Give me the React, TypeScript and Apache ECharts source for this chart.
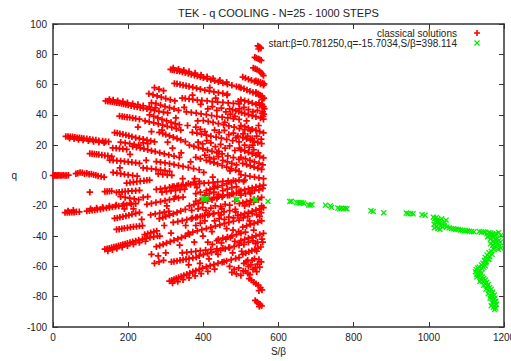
import React, { useEffect, useRef } from "react";
import * as echarts from "echarts";

// ---- tick labels / axis ranges ----
const xTicks = [0, 200, 400, 600, 800, 1000, 1200];
const yTicks = [-100, -80, -60, -40, -20, 0, 20, 40, 60, 80, 100];
const titleText = "TEK - q COOLING - N=25 - 1000 STEPS";
const redName = "classical solutions";
const greenName = "start:β=0.781250,q=-15.7034,S/β=398.114";

// ---- red: classical solutions [S/β, q] ----
const rayZero = [[0,0],[3,0],[6,0.1],[9,0],[12,0],[15,0.1],[19,0],[23,0],[27,0.1],[32,0],[36,0],[41,0.2],[61,1.2],[66,1.5],[72,2],[78,1.8],[84,1.2],[90,1.5],[96,0.8],[102,1],[108,0.5],[114,0.2],[120,-0.3],[128,-0.6],[136,-1]];
const rayP25 = [[34,25.8],[40,25.8],[46,25.6],[52,25.5],[58,25.3],[64,25],[70,25],[76,24.7],[82,24.5],[90,24.2],[98,24],[106,23.6],[114,23.4],[122,23],[132,22.8],[140,22.5],[148,22.3]];
const rayP25b = [[44,24.6],[56,24.2],[68,23.8],[80,23.4],[94,23],[108,22.5],[122,22],[136,21.6]];
const rayP14 = [[98,14.5],[104,14.4],[110,14.2],[116,14],[122,13.8],[130,13.5],[138,13.2],[146,13],[156,12.6]];
const rayP48 = [[140,49.2],[146,49],[152,48.8],[158,48.6],[164,48.3],[170,48],[176,47.8],[182,47.5],[188,47.2],[194,46.8],[200,46.5],[208,46],[216,45.6],[224,45.2],[232,44.8],[240,44.5],[250,44],[260,43.5],[270,43],[282,42.4],[294,41.8],[305,41.3]];
const rayP48b = [[150,50.2],[160,49.8],[172,49.4],[186,48.8],[198,48],[212,47.4],[226,46.8],[240,46],[256,45.3],[272,44.6]];
const rayP38 = [[177,39.2],[184,39],[190,38.8],[197,38.5],[204,38.3],[212,38],[220,37.6],[230,37.2]];
const rayP70 = [[313,70],[318,69.8],[323,69.5],[330,69.2],[337,68.8],[344,68.3],[352,67.8],[360,67.3],[368,66.7],[376,66.2],[384,65.6],[392,65],[400,64.5],[410,63.8],[420,63.2],[430,62.5],[440,61.8],[452,61],[464,60.2],[476,59.5],[488,58.8],[495,58.4]];
const rayP70b = [[320,71],[334,70.2],[348,69.4],[362,68.6],[378,67.6],[394,66.4],[410,65.2],[426,64],[444,62.8],[462,61.6]];
const rayP60 = [[323,60.8],[330,60.5],[338,60],[346,59.6],[354,59.2],[362,58.8],[372,58.2],[382,57.6],[392,57],[404,56.3],[416,55.7],[428,55.2],[440,54.7],[452,54.2],[464,53.8]];
const rayP51 = [[344,51],[352,50.8],[362,50.5],[372,50.2],[384,49.8],[396,49.5],[410,49.2],[424,48.8],[438,48.5],[452,48.2],[466,47.9],[480,47.6],[495,47.3]];
const rayP42 = [[355,42],[368,41.6],[381,41.2],[394,40.7],[408,40.2],[422,39.6],[436,39],[450,38.5],[465,38],[480,37.5],[495,37]];
const rayP54 = [[255,54],[266,53.3],[277,52.5],[288,51.7],[300,50.8],[312,50],[324,49.2],[270,58],[282,57],[294,56]];
const rayP40 = [[257,40],[268,39],[279,38],[290,37],[302,36],[314,35],[325,34.2],[336,33.5]];
const rayP46 = [[262,48],[274,47.5],[286,46.5],[298,45.5],[310,44.8],[322,44],[334,43]];
const rayP28a = [[164,28.3],[171,28],[178,27.6],[186,27.2],[194,26.7],[202,26.2],[210,25.6],[220,25],[230,24.4],[240,24],[250,23.4],[260,22.8],[270,22.2]];
const rayP28b = [[283,28.5],[292,27.8],[300,27],[310,26.2],[320,25.3],[330,24.4],[340,23.5],[352,22.4]];
const rayP28c = [[371,28.5],[383,28],[395,27.3],[408,26.6],[420,26],[434,25.3],[448,24.6],[462,23.8],[478,23],[495,22.2]];
const rayP36a = [[245,36],[256,35.4],[268,34.8],[280,34],[292,33.3],[304,32.5],[316,31.7],[328,30.9],[340,30]];
const rayP36b = [[400,36.3],[413,35.7],[426,35],[440,34.3],[454,33.5],[468,32.7],[482,31.9],[496,31],[510,30.2],[525,29.4]];
const rayP18 = [[159,18.2],[168,18],[177,17.8],[186,17.5],[196,17.2],[180,22],[192,21.5],[204,21],[216,20.5],[228,20],[240,21.5],[252,21]];
const rayP19 = [[212,19.2],[222,18.7],[232,18.2],[242,17.6],[252,17],[262,16.4],[272,15.8],[284,15],[296,14.3],[308,13.6],[322,12.8],[336,12]];
const rayP20 = [[363,20],[375,19.2],[387,18.4],[399,17.6],[411,16.8],[423,16],[436,15.1],[450,14.2],[465,13],[480,11.8],[495,10.6]];
const rayP10 = [[151,10.2],[160,10],[170,9.8],[180,9.6],[190,9.3],[200,9],[210,8.7],[220,8.4],[230,8]];
const rayP9 = [[275,9.2],[286,8.8],[298,8.3],[310,7.8],[322,7.2],[334,6.6],[346,6],[360,5.3],[374,4.6],[389,3.8]];
const rayP10b = [[408,10],[418,9.2],[428,8.4],[438,7.6],[450,6.6],[462,5.6],[474,4.6],[486,3.6],[495,2.8]];
const rayP5 = [[160,2],[170,1.6],[180,1.2],[190,0.8],[200,0.4],[212,0],[224,-0.4],[240,5],[250,4.7],[262,4.4],[274,4],[286,3.6],[298,3.2],[310,2.8],[280,1],[292,0.7],[304,0.4],[316,0.1]];
const midCloudP = [[380,32],[392,30.5],[404,29],[386,22],[398,20.8],[420,21.5],[432,19],[446,20.5],[458,18],[470,19.5],[484,16.5],[496,18],[510,20],[522,18.5],[534,17],[546,15],[430,30],[442,28.5],[456,29.8],[468,27],[480,28],[492,26],[506,27.5],[518,26],[530,24.5],[542,26],[554,24],[412,44],[424,45.5],[436,43],[448,44.5],[460,42],[472,40.5],[484,39],[496,44],[508,45],[520,43.5],[532,42],[544,43],[556,41],[380,12],[392,11],[404,13.5],[416,12],[428,11],[440,12.5],[452,10],[464,9],[476,8],[488,7],[500,12],[512,11],[524,10],[536,9],[548,8],[558,7]];
const scatterMid = [[305,22],[318,18],[327,38],[341,15],[349,45],[358,33],[366,9],[371,53],[377,-2],[385,36],[393,47],[401,2],[409,23],[417,58],[425,-1],[433,51],[441,16],[449,-22],[457,35],[463,53],[471,3],[479,-36],[487,25],[493,49],[507,-4],[515,36],[523,-30],[531,20],[539,-45],[547,33],[555,-20],[303,-20],[314,-38],[326,-14],[337,-46],[345,-2],[353,-33],[361,-59],[369,-23],[376,-44],[383,-8],[391,-58],[399,-40],[407,-23],[415,-55],[423,-37],[431,-7],[439,-52],[447,-26],[455,-57],[462,-35],[470,-13],[478,-51],[486,-24],[494,-37],[502,-50],[510,-3],[518,-56],[526,-12],[534,-36],[542,-50],[550,-27],[558,-44],[290,30],[296,-33],[284,-40],[262,29],[248,10],[236,-29],[226,32],[214,-22],[205,14],[190,-22],[178,5]];
const colTopP = [[545,85.5],[548,85],[551,84.5],[553,84],[547,83.5],[537,78],[541,77.5],[546,77],[550,76.5],[554,76],[533,71],[538,70.5],[543,70],[549,69],[553,68],[557,67],[560,66]];
const colMidP = [[540,62.5],[546,62],[552,61.5],[558,61],[562,60.5],[540,55],[546,54],[551,53],[556,52],[561,51],[557,50],[548,48],[556,47],[560,45.5],[562,44],[558,42],[561,40.5],[559,39]];
const rightP1 = [[470,44],[478,43.4],[486,42.8],[494,42.2],[502,41.5],[510,41],[520,40.2],[530,39.5],[540,38.8],[552,38],[560,37.2]];
const rightP2 = [[500,58],[508,57.2],[516,56.5],[524,55.6],[532,54.8],[540,54],[548,53.2],[556,52.4],[505,65],[512,64.3],[520,63.6],[528,62.8],[536,62],[544,61.2],[552,60.4],[560,59.6]];
const rightP3 = [[500,50],[510,49.3],[520,48.6],[530,47.8],[540,47],[550,46.2],[558,45.4],[500,33],[510,32.2],[520,31.4],[530,30.6],[540,29.8],[550,29],[560,28.2]];
const rightP4 = [[505,25],[515,24.2],[525,23.4],[535,22.6],[545,21.8],[555,21],[500,17],[510,16.2],[520,15.3],[530,14.4],[540,13.5],[550,12.6],[560,11.7]];
const rightP5 = [[505,8],[515,7.2],[525,6.4],[535,5.6],[545,4.8],[555,4],[500,0.5],[512,0],[524,-0.5],[536,-1],[548,-1.5],[560,-2]];

const rayN24 = [[32,-24.5],[38,-24.5],[44,-24.4],[50,-24.3],[56,-24.2],[62,-24],[70,-24],[90,-23.5],[97,-23.2],[104,-23],[111,-22.8],[118,-22.5],[126,-22.2],[134,-21.8],[142,-21.5],[150,-21.2],[158,-20.8],[166,-20.5],[175,-20.2],[185,-19.8],[196,-19.4],[208,-19],[220,-18.6]];
const rayN24b = [[40,-23.4],[54,-23],[100,-22],[116,-21.5],[132,-21],[150,-20.2],[168,-19.5],[188,-18.8],[206,-18.2]];
const rayN11 = [[98,-11],[138,-10.6],[144,-10.5],[150,-10.4],[156,-10.3],[169,-11.2],[176,-11],[184,-10.8],[192,-10.6],[200,-10.4],[210,-10.2],[220,-10],[230,-9.8],[180,-14],[192,-14.5],[204,-15],[216,-15.5],[228,-16],[240,-14.5],[252,-14]];
const rayN48 = [[138,-48.6],[144,-48.3],[150,-48],[156,-47.6],[162,-47.2],[168,-46.8],[174,-46.4],[180,-46],[186,-45.6],[192,-45.2],[198,-44.8],[205,-44.3],[212,-43.8],[220,-43.2],[228,-42.6],[238,-42],[248,-41.5],[258,-41],[268,-40.5],[278,-40]];
const rayN48b = [[146,-49.8],[158,-49],[170,-48.2],[184,-47.3],[198,-46.4],[214,-45.4],[230,-44.3],[246,-43.4]];
const rayN35 = [[169,-35.6],[176,-35.4],[183,-35.1],[190,-34.8],[198,-34.5],[206,-34.2],[214,-33.9],[222,-33.6],[230,-33.4],[238,-33.1],[244,-39],[252,-38.4],[260,-37.8],[268,-37.2],[276,-36.6]];
const rayN70 = [[310,-69.7],[316,-69.2],[322,-68.6],[328,-68],[334,-67.4],[341,-66.7],[348,-66],[356,-65.2],[364,-64.4],[372,-63.6],[380,-62.8],[389,-62],[398,-61.2],[408,-60.3],[418,-59.5],[428,-58.8],[439,-58],[450,-57.2],[462,-56.4],[474,-55.6],[486,-54.8],[495,-54.2]];
const rayN70b = [[318,-71],[332,-70],[346,-68.8],[362,-67.5],[378,-66.2],[394,-64.8],[412,-63.3],[430,-61.8]];
const rayN57 = [[315,-57],[322,-56.7],[330,-56.4],[338,-56],[346,-55.6],[354,-55.2],[362,-54.8],[372,-54.4],[381,-54],[270,-58],[282,-57],[294,-56],[262,-52],[280,-53],[300,-51]];
const rayN47 = [[275,-47],[284,-46.2],[293,-45.4],[302,-44.6],[312,-43.7],[322,-42.8],[332,-41.9],[342,-41],[352,-40],[363,-39]];
const rayN53 = [[389,-53],[400,-52.3],[411,-51.5],[422,-50.8],[434,-50],[446,-49.2],[458,-48.4],[470,-47.6],[482,-46.8],[495,-46]];
const rayN51 = [[344,-51],[356,-50.7],[368,-50.4],[380,-50],[392,-49.6],[406,-49.2],[420,-48.8],[436,-48.4],[452,-48],[468,-47.6]];
const rayN31 = [[320,-31],[332,-30.4],[344,-29.8],[356,-29.2],[368,-28.5],[380,-27.8],[392,-27],[404,-26.3],[416,-25.6],[428,-25]];
const rayN38 = [[360,-38],[372,-37.3],[384,-36.6],[396,-35.8],[408,-35],[420,-34.2],[432,-33.4],[444,-32.6],[456,-31.8],[468,-31],[480,-30.2],[495,-29.4]];
const rayN42 = [[440,-42],[452,-41.3],[464,-40.6],[476,-39.8],[488,-39],[500,-38.2],[512,-37.4]];
const rayN28a = [[164,-28.3],[171,-28],[178,-27.6],[186,-27.2],[194,-26.7],[202,-26.2],[210,-25.6],[220,-25],[230,-24.4],[260,-26],[272,-25.4],[284,-24.8],[296,-24.2],[308,-23.6]];
const rayN28b = [[283,-28.5],[292,-27.8],[300,-27],[310,-26.2],[320,-25.3],[330,-24.4],[340,-23.5],[352,-22.4],[371,-28],[384,-27.4],[398,-26.8],[412,-26.1],[426,-25.4],[440,-24.7],[455,-24],[470,-23.2],[485,-22.4]];
const rayN19 = [[250,-19],[262,-18.4],[274,-17.8],[286,-17.2],[298,-16.6],[310,-16],[322,-15.4],[334,-14.8],[346,-14.2],[380,-17],[392,-16.4],[404,-15.8],[416,-15.2],[428,-14.6],[440,-14],[452,-13.4],[464,-12.8],[476,-12.2],[488,-11.6]];
const rayN20 = [[363,-20],[375,-19.2],[387,-18.4],[399,-17.6],[411,-16.8],[423,-16],[436,-15.1],[450,-14.2],[465,-13],[480,-11.8],[495,-10.6]];
const rayN9 = [[275,-9.2],[286,-8.8],[298,-8.3],[310,-7.8],[322,-7.2],[334,-6.6],[346,-6],[360,-5.3],[374,-4.6],[389,-3.8],[290,-11],[302,-10.6],[314,-10.2],[326,-9.8],[338,-9.4],[350,-9]];
const rayN5 = [[196,-5],[205,-4.7],[214,-4.4],[223,-4.1],[232,-3.8],[242,-3.5],[250,-3.2],[257,-3],[318,-7.2],[330,-6.9],[342,-6.6],[354,-6.3],[366,-6],[378,-5.7],[390,-5.4],[402,-5.1],[414,-4.8],[426,-4.5],[438,-4.2],[452,-3.9],[466,-3.6],[480,-3.3],[495,-3],[408,-10],[418,-9.2],[428,-8.4],[438,-7.6],[450,-6.6],[462,-5.6],[474,-4.6],[486,-3.8]];
const midCloudN = [[380,-33],[392,-31.5],[404,-30],[386,-22],[398,-21],[420,-21.5],[432,-20],[446,-20.5],[458,-19],[470,-19.5],[484,-17],[496,-18.5],[510,-20],[522,-19],[534,-17.5],[546,-16],[430,-30],[442,-28.5],[456,-29],[468,-27.5],[480,-28],[492,-26.5],[506,-28],[518,-27],[530,-25],[542,-26],[554,-24.5],[412,-44],[424,-45.5],[436,-43],[448,-44.5],[460,-42],[472,-41],[484,-43.5],[496,-44.5],[508,-45.5],[520,-44],[532,-43],[544,-44],[556,-42],[380,-12],[392,-11],[404,-13],[416,-12],[428,-11],[440,-12.5],[452,-10],[464,-9],[476,-8],[488,-7.5],[500,-13],[512,-12],[524,-11],[536,-10],[548,-9.5],[558,-8.5],[470,-60],[482,-62],[494,-61],[506,-63],[500,-66],[488,-65],[476,-64]];
const rightN1 = [[500,-10],[510,-9.4],[520,-8.8],[530,-8.2],[540,-7.6],[550,-7],[560,-6.4],[505,-18],[515,-17.3],[525,-16.6],[535,-15.9],[545,-15.2],[555,-14.5]];
const rightN2 = [[500,-26],[510,-25.2],[520,-24.4],[530,-23.6],[540,-22.8],[550,-22],[560,-21.2],[505,-34],[515,-33.2],[525,-32.4],[535,-31.6],[545,-30.8],[555,-30]];
const rightN3 = [[500,-43],[510,-42.2],[520,-41.4],[530,-40.6],[540,-39.8],[550,-39],[560,-38.2],[505,-52],[513,-51.2],[521,-50.4],[529,-49.6],[537,-48.8],[545,-48],[553,-47.2]];
const blobN60 = [[508,-58],[514,-57],[520,-60],[526,-59],[532,-62],[538,-61],[544,-58.5],[550,-60.5],[512,-63],[518,-64.5],[524,-65.5],[530,-56],[536,-55],[542,-63.5],[548,-55.5],[554,-57]];
const colBotN = [[522,-68],[528,-69],[534,-70.5],[540,-71.5],[546,-72.5],[552,-74],[556,-75.5],[548,-76],[538,-82.5],[543,-83.5],[547,-84.5],[551,-85],[555,-86],[549,-86.5]];

// ---- green: cooling trajectory from start point ----
const greenDrift = [[398.1,-15.7],[402,-15.4],[406,-15.6],[411,-15.3],[487,-15.8],[491,-15.6],[536,-16.2],[540,-16],[572,-17],[630,-17.2],[634,-17],[648,-17.8],[654,-18],[658,-18.2],[662,-18],[667,-18.3],[680,-19.4],[684,-19.6],[689,-19.3],[725,-19.6],[738,-20],[741,-21],[758,-21.5],[763,-21.9],[768,-21.6],[773,-21.8],[778,-21.7],[782,-22],[846,-23.3],[852,-23.8],[880,-24.6],[940,-24.8],[945,-25.2],[952,-25],[958,-25.3],[982,-25.9],[990,-26.2]];
const greenCluster = [[1012,-27.5],[1016,-28.5],[1020,-27.8],[1024,-29],[1018,-30],[1022,-31],[1026,-30.5],[1030,-29.5],[1034,-28.6],[1028,-32],[1032,-33],[1020,-33.5],[1015,-34.5],[1024,-35],[1036,-34],[1042,-31],[1046,-29.5],[1040,-33],[1014,-32.2],[1030,-35.5],[1048,-34],[1054,-34.6],[1060,-35],[1066,-35.2],[1072,-35.5],[1078,-35.6],[1084,-36],[1090,-36.2],[1096,-36.4],[1102,-36.5],[1108,-36.8],[1114,-37],[1120,-37.2],[1134,-37],[1140,-37.4],[1146,-37.2]];
const greenColumn = [[1150,-37.5],[1155,-38.5],[1160,-37.8],[1165,-38],[1170,-38.6],[1176,-39],[1180,-38.5],[1186,-37.6],[1192,-39.5],[1160,-40],[1168,-40.5],[1174,-41],[1182,-41.5],[1178,-42.5],[1186,-43],[1190,-44],[1184,-45],[1176,-44.5],[1170,-46],[1180,-47],[1188,-46.5],[1192,-48],[1185,-48.8],[1172,-48.5],[1166,-50],[1160,-51],[1155,-52.5],[1162,-53.5],[1150,-54],[1158,-55],[1148,-56],[1154,-57],[1144,-58],[1140,-59],[1150,-59.5],[1146,-60.5],[1130,-61],[1126,-62],[1135,-62.5],[1124,-63.5],[1132,-64],[1140,-64.5],[1128,-65.5],[1136,-66],[1142,-67],[1146,-68],[1138,-68.5],[1150,-69],[1144,-70],[1154,-70.5],[1150,-71.5],[1158,-72],[1156,-73],[1162,-74],[1166,-75],[1160,-76],[1170,-77],[1168,-78],[1174,-79],[1165,-79.5],[1170,-80.5],[1176,-81],[1172,-82],[1178,-83],[1174,-84],[1180,-85],[1176,-86],[1172,-87],[1178,-87.5],[1175,-88.5]];
const greenColumnB = [[1156,-40.5],[1164,-42],[1170,-43.5],[1164,-45],[1174,-47.5],[1168,-52],[1160,-55.5],[1152,-58],[1142,-61.5],[1134,-60.5],[1128,-67],[1136,-70],[1146,-72.5],[1152,-75],[1158,-78],[1163,-81],[1168,-84],[1166,-86]];

const redSets = [rayZero, rayP25, rayP25b, rayP14, rayP48, rayP48b, rayP38, rayP70, rayP70b, rayP60, rayP51, rayP42, rayP54, rayP40, rayP46, rayP28a, rayP28b, rayP28c, rayP36a, rayP36b, rayP18, rayP19, rayP20, rayP10, rayP9, rayP10b, rayP5, midCloudP, scatterMid, colTopP, colMidP, rightP1, rightP2, rightP3, rightP4, rightP5, rayN24, rayN24b, rayN11, rayN48, rayN48b, rayN35, rayN70, rayN70b, rayN57, rayN47, rayN53, rayN51, rayN31, rayN38, rayN42, rayN28a, rayN28b, rayN19, rayN20, rayN9, rayN5, midCloudN, rightN1, rightN2, rightN3, blobN60, colBotN];
const greenSets = [greenDrift, greenCluster, greenColumn, greenColumnB];

const PLUS = "path://M2.2,0H3.8V2.2H6V3.8H3.8V6H2.2V3.8H0V2.2H2.2Z";
const CROSS = "path://M0,1.5L1.5,0L5,3.5L8.5,0L10,1.5L6.5,5L10,8.5L8.5,10L5,6.5L1.5,10L0,8.5L3.5,5Z";
const FONT = "Liberation Sans, Arial, sans-serif";
const plainNum = (v: number) => String(v);

export default function App() {
  const ref = useRef<HTMLDivElement>(null);
  useEffect(() => {
    if (!ref.current) return;
    const chart = echarts.init(ref.current, null, { renderer: "svg" });
    const redData = ([] as number[][]).concat(...redSets);
    const greenData = ([] as number[][]).concat(...greenSets);
    const axisCommon = {
      type: "value" as const,
      axisLine: { show: true, onZero: false, lineStyle: { color: "#333", width: 1.5 } },
      axisTick: { show: true, inside: true, length: 5, lineStyle: { color: "#333", width: 1 } },
      splitLine: { show: false },
    };
    chart.setOption({
      animation: false,
      title: {
        text: titleText,
        left: 173,
        top: 2,
        textStyle: { fontSize: 11, fontWeight: "normal", color: "#222", fontFamily: FONT },
      },
      legend: {
        orient: "vertical",
        right: 26,
        top: 23,
        align: "right",
        itemWidth: 6,
        itemHeight: 6,
        itemGap: 0,
        selectedMode: false,
        textStyle: { fontSize: 10, color: "#222", fontFamily: FONT, lineHeight: 10, padding: [0, 12, 0, 0] },
        data: [
          { name: redName, icon: PLUS },
          { name: greenName, icon: CROSS },
        ],
      },
      grid: { left: 53, right: 7, top: 24, bottom: 34, show: false, containLabel: false, outerBoundsMode: "none" },
      xAxis: [
        {
          ...axisCommon,
          min: xTicks[0],
          max: xTicks[xTicks.length - 1],
          interval: 200,
          position: "bottom",
          name: "S/β",
          nameLocation: "middle",
          nameGap: 19,
          nameTextStyle: { fontSize: 10, color: "#222", fontFamily: FONT },
          axisLabel: { fontSize: 10, color: "#222", margin: 5, fontFamily: FONT, formatter: plainNum, hideOverlap: false },
        },
        {
          ...axisCommon,
          min: xTicks[0],
          max: xTicks[xTicks.length - 1],
          interval: 200,
          position: "top",
          axisLabel: { show: false },
        },
      ],
      yAxis: [
        {
          ...axisCommon,
          min: yTicks[0],
          max: yTicks[yTicks.length - 1],
          interval: 20,
          position: "left",
          name: "q",
          nameLocation: "middle",
          nameRotate: 0,
          nameGap: 36,
          nameTextStyle: { fontSize: 10, color: "#222", fontFamily: FONT },
          axisLabel: { fontSize: 10, color: "#222", margin: 6, fontFamily: FONT, formatter: plainNum },
        },
        {
          ...axisCommon,
          min: yTicks[0],
          max: yTicks[yTicks.length - 1],
          interval: 20,
          position: "right",
          axisLabel: { show: false },
        },
      ],
      series: [
        {
          name: redName,
          type: "scatter",
          xAxisIndex: 0,
          yAxisIndex: 0,
          symbol: PLUS,
          symbolSize: 6.5,
          itemStyle: { color: "#ff0000", opacity: 1 },
          data: redData,
        },
        {
          name: greenName,
          type: "scatter",
          xAxisIndex: 0,
          yAxisIndex: 0,
          symbol: CROSS,
          symbolSize: 6,
          itemStyle: { color: "#00ee00", opacity: 1 },
          data: greenData,
        },
      ],
    });
    return () => chart.dispose();
  }, []);
  return (
    <div
      ref={ref}
      style={{ position: "absolute", left: 0, top: 0, width: 511, height: 361, background: "#fff" }}
    />
  );
}
